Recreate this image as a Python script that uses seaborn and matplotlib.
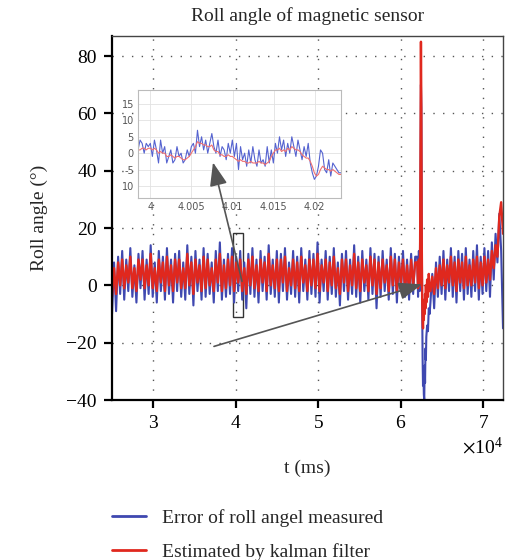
import numpy as np
import pandas as pd
import seaborn as sns
from matplotlib import pyplot as plt
from matplotlib.patches import Rectangle, FancyArrowPatch
from matplotlib.ticker import FixedLocator, FuncFormatter

# main trace, steady part (2.5e4 .. 6.2e4 ms)
blue_steady = [
    -10, 8, -9, 10, -3, 12, -5, 9, -2, 13, -4, 7, -6, 11, -1,
    12, -5, 9, -3, 14, -4, 8, -6, 12, -2, 10, -5, 13, -3, 9,
    -6, 11, -2, 12, -4, 8, -5, 14, -3, 10, -7, 12, -2, 9, -5,
    13, -4, 11, -3, 8, -6, 12, -2, 15, -5, 9, -4, 11, -3, 13,
    -6, 10, -2, 12, -5, 8, -8, 11, -3, 13, -4, 9, -6, 12, -2,
    10, -5, 14, -3, 9, -4, 12, -6, 11, -2, 13, -5, 8, -3, 12,
    -4, 10, -6, 13, -2, 9, -5, 12, -3, 11, -4, 15, -6, 9, -2,
    12, -5, 10, -3, 13, -4, 8, -7, 11, -2, 12, -5, 9, -3, 14,
    -4, 10, -6, 12, -2, 9, -5, 13, -3, 11, -8, 10, -4, 12, -2,
    9, -5, 13, -3, 11, -6, 10, -2, 12, -4, 9, -5, 11, -3, 10,
]
red_steady = [
    -4, 6, -3, 8, 0, 9, -1, 7, 1, 10, -1, 6, -2, 9, 2,
    9, -1, 7, 0, 11, -1, 6, -2, 9, 1, 8, -2, 10, 0, 7,
    -2, 9, 1, 9, -1, 6, -1, 11, 0, 8, -3, 9, 1, 7, -2,
    10, -1, 9, 0, 6, -2, 9, 1, 11, -2, 7, -1, 9, 0, 10,
    -2, 8, 1, 9, -2, 6, -3, 9, 0, 10, -1, 7, -2, 9, 1,
    8, -2, 11, 0, 7, -1, 9, -2, 9, 1, 10, -2, 6, 0, 9,
    -1, 8, -2, 10, 1, 7, -2, 9, 0, 9, -1, 11, -2, 7, 1,
    9, -2, 8, 0, 10, -1, 6, -3, 9, 1, 9, -2, 7, 0, 11,
    -1, 8, -2, 9, 1, 7, -2, 10, 0, 9, -3, 8, -1, 9, 1,
    7, -2, 10, 0, 9, -2, 8, 1, 9, -1, 7, -2, 9, 0, 8,
]

# spike around 6.25e4 ms
t_spike = [6.20, 6.21, 6.22, 6.23, 6.235, 6.24, 6.245, 6.25, 6.255, 6.26, 6.265, 6.27,
           6.275, 6.28, 6.285, 6.29, 6.295, 6.30, 6.305, 6.31, 6.32, 6.33, 6.34, 6.35]
blue_spike = [10, -4, 12, -2, 18, 40, 70, 62, 20, -8, -25, -35,
              -30, -38, -40, -28, -34, -22, -26, -18, -14, -16, -8, -10]
red_spike = [8, -1, 9, 0, 14, 50, 85, 60, 15, -5, -12, -15,
             -8, -12, -5, -10, -3, -8, 0, -6, 2, -4, 4, -2]

# tail part (6.36e4 .. 7.24e4 ms)
blue_tail = [-6, 4, -8, 8, -4, 10, -3, 12, -5, 9, -2, 13, -4, 10, -6, 12, -2, 11, -5, 13,
             -3, 9, -4, 12, -2, 14, -5, 10, -3, 13, -2, 12, -4, 15, 2, 18, 8, 25, 12, -15]
red_tail = [-2, 3, -3, 6, -1, 7, 0, 9, -1, 7, 1, 10, 0, 8, -2, 9, 1, 8, -1, 10,
            0, 7, 0, 9, 1, 10, -1, 8, 0, 10, 1, 9, 2, 12, 6, 14, 10, 24, 29, 18]

# zoomed window 3.9985e4 .. 4.0232e4 ms
blue_zoom = [
    1, 4, 3, 0, 3, 2, 3, -1, 4, 1, -3, 4, 0, 2, -3,
    -1, 1, -3, -2, 2, -1, 0, -3, -2, 1, -1, 2, 3, 0, 7,
    2, 5, 1, 4, 0, 3, 6, 2, 0, 4, -1, 2, 1, -2, 3,
    0, 4, -1, 3, -5, 2, -2, 0, -4, 1, -3, 2, -2, -4, 1,
    -3, -2, -4, 2, -3, 1, -3, 3, 0, 5, 1, 4, -1, 3, 0,
    5, 2, -1, 4, 1, -2, 2, -1, 3, -3, -6, -8, -7, -4, 1,
    0, -5, -6, -2, -7, -3, -4, -5, -6, -6,
]
red_zoom = [
    1, 1, 1.5, 1.5, 1, 1.5, 1.5, 1, 1.5, 1, 0, 0.5, 0, 0, -1,
    -1, -0.5, -1, -1.5, -1, -1, -1.5, -2, -2, -1.5, -1, 0, 1, 2, 3.5,
    3, 3, 2.5, 2.5, 2, 2, 2.5, 1, 0.5, 0.5, -0.5, -0.5, -1, -1, -0.5,
    -1, -1, -1.5, -2, -2.5, -2, -2.5, -2.5, -3, -3, -2.5, -3, -3, -3, -2.5,
    -3, -3, -3.5, -3, -2.5, -1, 0, 1, 1, 1.5, 0.5, 1, 0.5, 1.5, 1,
    2, 1.5, 1, 1, 0.5, -0.5, -1, -1.5, -1.5, -2.5, -4, -6, -7, -6.5, -5,
    -4, -4.5, -5, -5, -5.5, -5, -5.5, -6, -6.5, -6.5,
]
zoom_ticks = [40000, 40050, 40100, 40150, 40200]
zoom_ytick_labels = ['15', '10', '5', '0', '-5', '10']
labels = ['Error of roll angel measured', 'Estimated by kalman filter']

BLUE = '#3f48b0'
RED = '#e0281e'
FS = 14

t_main = np.concatenate([
    np.linspace(2.5e4, 6.2e4, len(blue_steady), endpoint=False),
    np.array(t_spike) * 1e4,
    np.linspace(6.36e4, 7.24e4, len(blue_tail)),
])
df = pd.DataFrame({
    't': t_main,
    'blue': blue_steady + blue_spike + blue_tail,
    'red': red_steady + red_spike + red_tail,
})
t_zoom = np.linspace(3.9985e4, 4.0232e4, len(blue_zoom))
dz = pd.DataFrame({'t': t_zoom, 'blue': blue_zoom, 'red': red_zoom})

sns.set_style('ticks')
plt.rcParams['font.family'] = ['Liberation Serif', 'DejaVu Serif']
plt.rcParams['mathtext.fontset'] = 'stix'

fig = plt.figure(figsize=(5.08, 5.6), dpi=100)
ax = fig.add_axes([0.2205, 0.2857, 0.7697, 0.65])

sns.lineplot(data=df, x='t', y='blue', ax=ax, color=BLUE, linewidth=1.5,
             estimator=None, legend=False)
sns.lineplot(data=df, x='t', y='red', ax=ax, color=RED, linewidth=1.7,
             estimator=None, legend=False)

ax.set_xlim(2.5e4, 7.24e4)
ax.set_ylim(-40, 87)
ax.set_yticks([-40, -20, 0, 20, 40, 60, 80])
ax.set_xticks([3e4, 4e4, 5e4, 6e4, 7e4])
ax.ticklabel_format(style='sci', axis='x', scilimits=(4, 4), useMathText=True)
ax.xaxis.get_offset_text().set_fontsize(FS)
ax.grid(True, color='#555555', linestyle=(0, (1, 6)), linewidth=1)
ax.tick_params(direction='out', length=6, width=1.6, labelsize=FS, colors='black', pad=5)
for s in ['left', 'bottom']:
    ax.spines[s].set_linewidth(1.6)
    ax.spines[s].set_color('black')
for s in ['top', 'right']:
    ax.spines[s].set_linewidth(1.0)
    ax.spines[s].set_color('#444444')

ax.set_title('Roll angle of magnetic sensor', fontsize=FS, pad=11)
ax.set_xlabel('t (ms)', fontsize=FS, labelpad=20)
ax.set_ylabel('Roll angle (°)', fontsize=FS, labelpad=13)

ax.add_patch(Rectangle((3.97e4, -11.2), 0.12e4, 29.3, fill=False, ec='#333333', lw=1))

# inset
ins = fig.add_axes([0.2717, 0.6464, 0.3996, 0.1929])
sns.lineplot(data=dz, x='t', y='blue', ax=ins, color='#5563d0', linewidth=0.8,
             estimator=None, legend=False)
sns.lineplot(data=dz, x='t', y='red', ax=ins, color='#f07070', linewidth=0.8,
             estimator=None, legend=False)
ins.set_xlim(3.9985e4, 4.0232e4)
ins.set_ylim(-13.7, 19.3)
ins.xaxis.set_major_locator(FixedLocator(zoom_ticks))
ins.xaxis.set_major_formatter(FuncFormatter(lambda v, p: f'{v / 1e4:g}'))
ins.set_yticks([15, 10, 5, 0, -5, -10])
ins.set_yticklabels(zoom_ytick_labels)
ins.set_xlabel('')
ins.set_ylabel('')
ins.grid(True, color='#e2e2e2', linewidth=0.6)
ins.tick_params(length=0, labelsize=7, colors='#555555', pad=3)
for lab in ins.get_xticklabels() + ins.get_yticklabels():
    lab.set_family('DejaVu Sans')
for s in ins.spines.values():
    s.set_color('#bbbbbb')
    s.set_linewidth(0.8)

# arrows drawn on top of everything
arrow_style = '-|>,head_length=0.8,head_width=0.3'
fig.add_artist(FancyArrowPatch((4.076e4, 1.4), (3.724e4, 42.9), transform=ax.transData,
                               arrowstyle=arrow_style, mutation_scale=18,
                               color='#555555', lw=1.2, shrinkA=0, shrinkB=0))
fig.add_artist(FancyArrowPatch((3.736e4, -21.3), (6.258e4, 0.35), transform=ax.transData,
                               arrowstyle=arrow_style, mutation_scale=18,
                               color='#555555', lw=1.2, shrinkA=0, shrinkB=0))

fig.legend(handles=[plt.Line2D([], [], color=BLUE, lw=2),
                    plt.Line2D([], [], color=RED, lw=2)],
           labels=labels, loc='upper left', bbox_to_anchor=(0.2205, 0.091),
           bbox_transform=fig.transFigure, frameon=False, fontsize=FS,
           borderpad=0, borderaxespad=0,
           handlelength=1.75, handletextpad=0.8, labelspacing=0.84)

fig.savefig('out.png', dpi=100)
